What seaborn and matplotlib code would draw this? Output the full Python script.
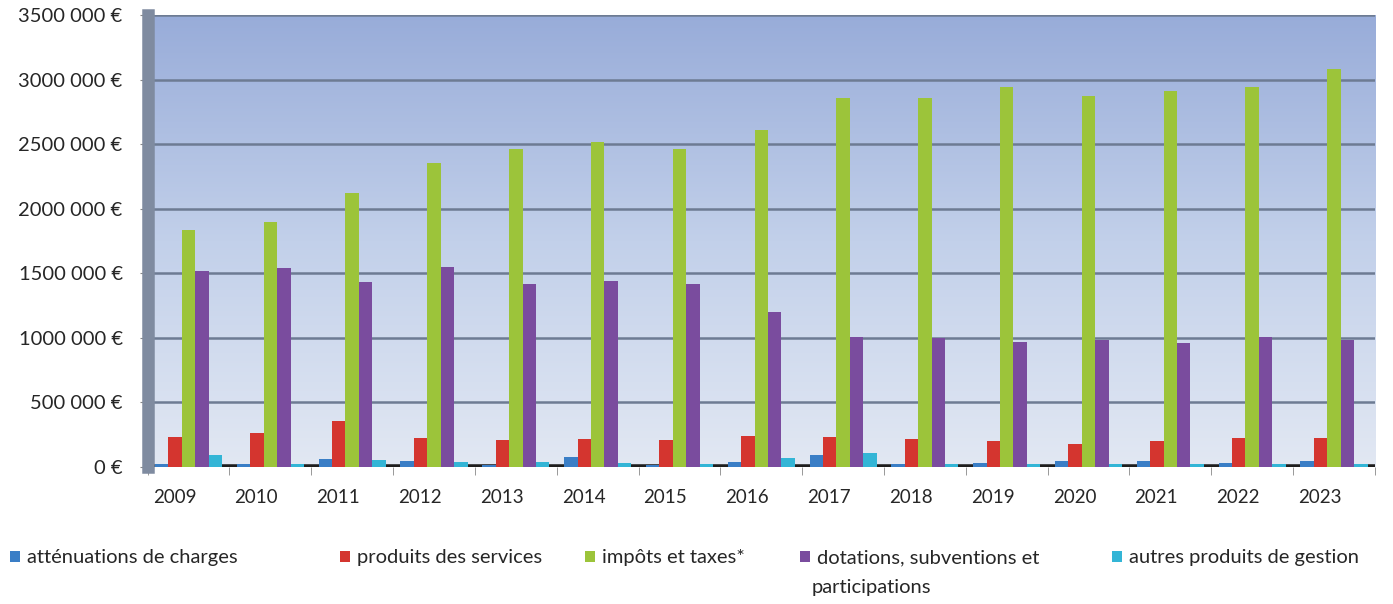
import matplotlib
matplotlib.use("Agg")
import matplotlib.pyplot as plt
import matplotlib.ticker as mticker
import matplotlib.transforms as mtransforms
import seaborn as sns
import pandas as pd
import numpy as np

years = [str(y) for y in range(2009, 2024)]
series = ["atténuations de charges", "produits des services", "impôts et taxes*",
          "dotations, subventions et", "autres produits de gestion"]

attenuations = [20000, 20000, 60000, 45000, 15000, 80000, 15000, 40000, 90000, 20000,
                30000, 50000, 45000, 30000, 50000]
produits_services = [235000, 260000, 355000, 225000, 210000, 220000, 210000, 240000, 230000, 215000,
                     205000, 175000, 200000, 225000, 225000]
impots_taxes = [1835000, 1900000, 2120000, 2350000, 2460000, 2520000, 2460000, 2610000, 2860000, 2860000,
                2940000, 2870000, 2910000, 2940000, 3080000]
dotations = [1520000, 1540000, 1430000, 1550000, 1420000, 1440000, 1420000, 1200000, 1010000, 1000000,
             970000, 980000, 960000, 1010000, 980000]
autres_produits = [90000, 25000, 55000, 40000, 35000, 30000, 25000, 70000, 110000, 20000,
                   20000, 25000, 25000, 20000, 25000]

colors = ["#3a7ec6", "#d4352f", "#9cc43a", "#7a4c9e", "#33b5d6"]

df = pd.DataFrame({
    "annee": years * 5,
    "serie": np.repeat(series, len(years)),
    "valeur": attenuations + produits_services + impots_taxes + dotations + autres_produits,
})

sns.set_style("white")
plt.rcParams["font.family"] = ["Lato", "DejaVu Sans"]

fig = plt.figure(figsize=(13.93, 6.04), dpi=100)
ax = fig.add_axes([0.106, 0.2268, 0.881, 0.7485])

# fond en dégradé
grad = np.linspace(0, 1, 256).reshape(-1, 1)
cmap = matplotlib.colors.LinearSegmentedColormap.from_list("fond", ["#e2e8f3", "#c2d0ea", "#98acd9"])
ax.imshow(grad, aspect="auto", cmap=cmap, extent=[0, 1, 0, 1], transform=ax.transAxes,
          origin="lower", zorder=0)

sns.barplot(data=df, x="annee", y="valeur", hue="serie", palette=colors, width=0.82,
            ax=ax, zorder=3, edgecolor="none", saturation=1)

ax.set_ylim(0, 3500000)
ax.set_xlim(-0.5, len(years) - 0.5)
ax.yaxis.set_major_locator(mticker.MultipleLocator(500000))
ax.yaxis.set_major_formatter(mticker.FuncFormatter(
    lambda v, p: "0 €" if v == 0 else f"{int(v // 1000)} 000 €"))
ax.grid(axis="y", color="#6d7b93", lw=1.8, zorder=1)
ax.axhline(0, color="#1e1e1e", lw=4, zorder=2)

ax.set_xlabel("")
ax.set_ylabel("")
ax.tick_params(axis="x", length=0, labelsize=13.5, pad=16)
ax.tick_params(axis="y", left=True, length=6, labelsize=14.5, pad=12, color="#888888")
ax.set_xticks(np.arange(len(years) + 1) - 0.5, minor=True)
ax.tick_params(axis="x", which="minor", bottom=True, length=6, color="#888888")

# décalage des étiquettes d'années (effet 3D de l'original)
shift = mtransforms.ScaledTranslation(-14 / 100, 0, fig.dpi_scale_trans)
for lab in ax.get_xticklabels():
    lab.set_transform(lab.get_transform() + shift)

for s in ["top", "right", "bottom"]:
    ax.spines[s].set_visible(False)
ax.spines["left"].set_color("#7f8ba0")
ax.spines["left"].set_linewidth(9)

ax.legend_.remove()
handles, labels = ax.get_legend_handles_labels()
leg_x = [10, 340, 585, 800, 1112]
for h, l, x in zip(handles, labels, leg_x):
    fig.legend([h], [l], loc="center left", bbox_to_anchor=(x / 1393, 1 - 558 / 604),
               frameon=False, fontsize=14.5, handlelength=0.5, handleheight=0.5,
               handletextpad=0.35, borderpad=0, borderaxespad=0)
fig.text(812 / 1393, 1 - 587 / 604, "participations", fontsize=14.5, va="center", ha="left")

fig.savefig("out.png", dpi=100)
